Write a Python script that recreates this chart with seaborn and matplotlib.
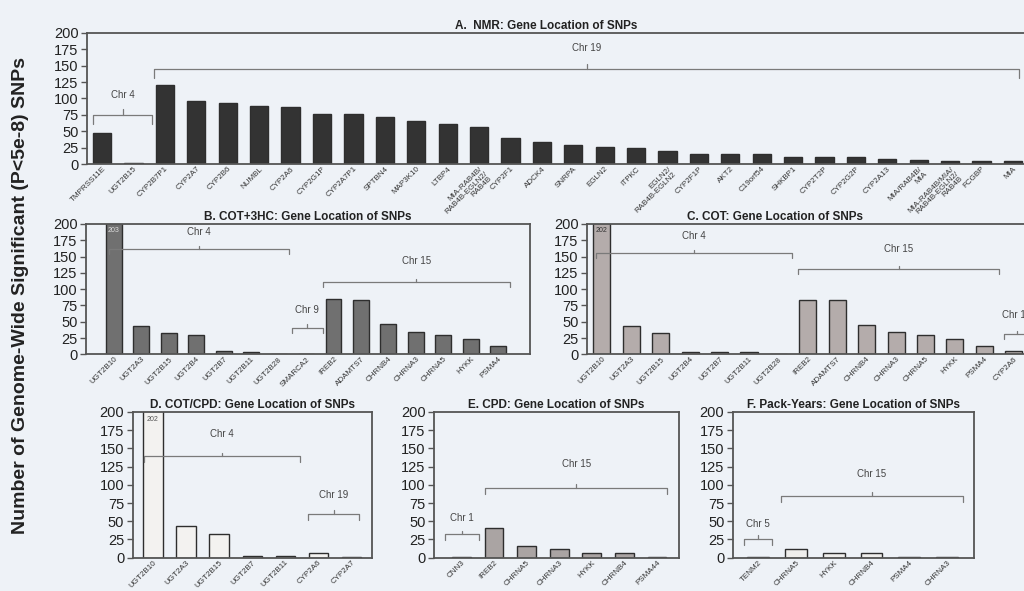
import matplotlib
matplotlib.use("Agg")
import matplotlib.pyplot as plt
import seaborn as sns

# panel A: NMR
nmr_genes = ["TMPRSS11E", "UGT2B15", "CYP2B7P1", "CYP2A7", "CYP2B6", "NUMBL", "CYP2A6",
             "CYP2G1P", "CYP2A7P1", "SPTBN4", "MAP3K10", "LTBP4",
             "MIA-RAB4B/\nRAB4B-EGLN2/\nRAB4B", "CYP2F1", "ADCK4", "SNRPA", "EGLN2", "ITPKC",
             "EGLN2/\nRAB4B-EGLN2", "CYP2F1P", "AKT2", "C19orf54", "SHKBP1", "CYP2T2P",
             "CYP2G2P", "CYP2A13", "MIA/RAB4B/\nMIA", "MIA-RAB4B/MIA/\nRAB4B-EGLN2/\nRAB4B",
             "FCGBP", "MIA"]
nmr_snps = [48, 1, 121, 96, 93, 88, 87, 77, 77, 72, 66, 61, 57, 39, 34, 29, 26, 25,
            20, 16, 15, 15, 11, 10, 10, 8, 6, 5, 4, 4]

# panel B: COT+3HC
cot3hc_genes = ["UGT2B10", "UGT2A3", "UGT2B15", "UGT2B4", "UGT2B7", "UGT2B11", "UGT2B28",
                "SMARCA2", "IREB2", "ADAMTS7", "CHRNB4", "CHRNA3", "CHRNA5", "HYKK", "PSMA4"]
cot3hc_snps = [203, 44, 32, 29, 5, 3, 1, 1, 85, 84, 46, 34, 29, 24, 12]

# panel C: COT
cot_genes = ["UGT2B10", "UGT2A3", "UGT2B15", "UGT2B4", "UGT2B7", "UGT2B11", "UGT2B28",
             "IREB2", "ADAMTS7", "CHRNB4", "CHRNA3", "CHRNA5", "HYKK", "PSMA4", "CYP2A6"]
cot_snps = [202, 44, 32, 4, 3, 3, 1, 84, 84, 45, 34, 29, 24, 12, 5]

# panel D: COT/CPD
cotcpd_genes = ["UGT2B10", "UGT2A3", "UGT2B15", "UGT2B7", "UGT2B11", "CYP2A6", "CYP2A7"]
cotcpd_snps = [202, 43, 32, 2, 2, 6, 1]

# panel E: CPD
cpd_genes = ["CNN3", "IREB2", "CHRNA5", "CHRNA3", "HYKK", "CHRNB4", "PSMA44"]
cpd_snps = [1, 41, 16, 12, 7, 7, 1]

# panel F: pack-years
py_genes = ["TENM2", "CHRNA5", "HYKK", "CHRNB4", "PSMA4", "CHRNA3"]
py_snps = [1, 12, 7, 6, 0.5, 0.5]

# chromosome brackets: (x0, x1, y, label, label_y)
brackets_a = [(-0.29, 1.59, 75, "Chr 4", 105), (1.65, 29.2, 145, "Chr 19", 177)]
brackets_b = [(-0.19, 6.37, 162, "Chr 4", 187), (6.47, 7.62, 41, "Chr 9", 68),
              (7.62, 14.41, 111, "Chr 15", 143)]
brackets_c = [(-0.2, 6.46, 156, "Chr 4", 181), (6.67, 13.5, 131, "Chr 15", 161),
              (13.67, 14.55, 31, "Chr 19", 61)]
brackets_d = [(-0.28, 4.46, 139, "Chr 4", 170), (4.69, 6.24, 60, "Chr 19", 86)]
brackets_e = [(-0.5, 0.53, 32, "Chr 1", 54), (0.73, 6.32, 96, "Chr 15", 128)]
brackets_f = [(-0.39, 0.35, 26, "Chr 5", 46), (0.6, 5.42, 85, "Chr 15", 115)]

BG = "#eef2f7"
sns.set_style("ticks")
plt.rcParams["font.family"] = ["Liberation Sans", "DejaVu Sans"]


def bracket(ax, x0, x1, y, label, label_y, drop):
    mid = (x0 + x1) / 2
    ax.plot([x0, x0, x1, x1], [y - drop, y, y, y - drop], color="#7a7a7a", lw=0.9)
    ax.plot([mid, mid], [y, y + drop * 0.6], color="#7a7a7a", lw=0.9)
    ax.text(mid, label_y, label, ha="center", va="center", fontsize=7, color="#444444")


def panel(rect, genes, snps, color, title, brackets, xlim=None, drop=8, title_x=0.5):
    ax = fig.add_axes(rect)
    ax.set_facecolor(BG)
    sns.barplot(x=genes, y=snps, ax=ax, color=color, edgecolor="#2e2e2e",
                linewidth=1.0, width=0.58, saturation=1)
    ax.set_ylim(0, 200)
    ax.set_yticks(range(0, 201, 25))
    if xlim is not None:
        ax.set_xlim(*xlim)
    ax.tick_params(axis="y", labelsize=10.5, length=4, width=1, color="#555555",
                   labelcolor="#222222", pad=2)
    ax.tick_params(axis="x", length=0, pad=1)
    ax.set_xticks(range(len(genes)))
    ax.set_xticklabels(genes, rotation=45, ha="right", rotation_mode="anchor",
                       fontsize=5.8, color="#333333", linespacing=0.95)
    for s in ax.spines.values():
        s.set_color("#555555")
        s.set_linewidth(1.3)
    ax.set_xlabel("")
    ax.set_ylabel("")
    for b in brackets:
        bracket(ax, *b, drop)
    ax.set_title(title, fontsize=8.5, fontweight="bold", color="#222222", pad=3, x=title_x)
    return ax


fig = plt.figure(figsize=(10.24, 5.91), dpi=100)
fig.patch.set_facecolor(BG)

ax_a = panel([0.085, 0.7225, 0.915, 0.2217], nmr_genes, nmr_snps, "#333333",
             "A.  NMR: Gene Location of SNPs", brackets_a, xlim=(-0.48, 29.35), drop=14,
             title_x=0.49)
ax_a.spines["right"].set_visible(False)

ax_b = panel([0.0837, 0.4005, 0.4336, 0.2205], cot3hc_genes, cot3hc_snps, "#707070",
             "B. COT+3HC: Gene Location of SNPs", brackets_b)
ax_b.text(0, 190, "203", ha="center", va="center", fontsize=5, color="#dddddd")

ax_c = panel([0.5732, 0.4005, 0.4268, 0.2205], cot_genes, cot_snps, "#b4acab",
             "C. COT: Gene Location of SNPs", brackets_c, xlim=(-0.51, 14.35), title_x=0.43)
ax_c.spines["right"].set_visible(False)
ax_c.text(0, 190, "202", ha="center", va="center", fontsize=5, color="#333333")

ax_d = panel([0.1294, 0.0563, 0.2336, 0.2469], cotcpd_genes, cotcpd_snps, "#f3f2f0",
             "D. COT/CPD: Gene Location of SNPs", brackets_d)
ax_d.text(0, 190, "202", ha="center", va="center", fontsize=5, color="#555555")

ax_e = panel([0.4238, 0.0563, 0.2388, 0.2469], cpd_genes, cpd_snps, "#aaa4a3",
             "E. CPD: Gene Location of SNPs", brackets_e)

ax_f = panel([0.7155, 0.0563, 0.2354, 0.2469], py_genes, py_snps, "#efeeec",
             "F. Pack-Years: Gene Location of SNPs", brackets_f)

fig.text(0.02, 0.5, "Number of Genome-Wide Significant (P<5e-8) SNPs", rotation=90,
         ha="center", va="center", fontsize=14, fontweight="bold", color="#222222")

fig.savefig("out.png", dpi=100, facecolor=BG)
